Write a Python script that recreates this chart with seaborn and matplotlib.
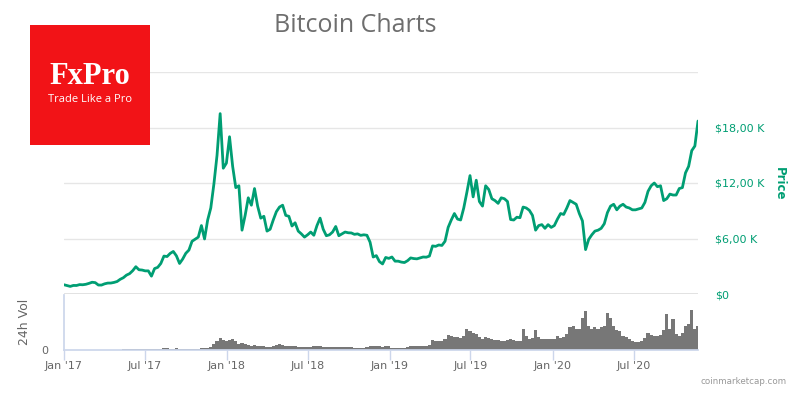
import matplotlib.pyplot as plt
import pandas as pd
import seaborn as sns
from matplotlib.patches import Rectangle

# Weekly BTC close (USD), one point every 7 days from 2017-01-01
price_2017 = [998, 908, 822, 925, 920, 1015, 999, 1050, 1150, 1270, 1230, 970, 965,
              1100, 1180, 1185, 1250, 1350, 1590, 1760, 2040, 2200, 2520, 2950, 2620,
              2590, 2500, 2500, 1930, 2750, 2880, 3300, 4100, 4050, 4390, 4600, 4120,
              3300, 3780, 4400, 4750, 5700, 5930, 6150, 7400, 5950, 8000, 9300, 11900,
              15000, 19500, 13600, 14150]
price_2018 = [17000, 13800, 11500, 11700, 6900, 8500, 10400, 9600, 11400, 9500, 8200,
              8400, 6800, 7000, 8000, 8900, 9400, 9600, 8500, 8400, 7350, 7700, 6800,
              6500, 6150, 6400, 6700, 6350, 7400, 8200, 7000, 6300, 6400, 6700, 7300,
              6300, 6500, 6700, 6620, 6600, 6450, 6500, 6340, 6400, 6350, 5600, 4000,
              4150, 3500, 3250, 3950, 3850]
price_2019 = [4000, 3550, 3550, 3450, 3400, 3600, 3900, 3830, 3800, 3900, 4000, 3980,
              4100, 5200, 5150, 5300, 5250, 5700, 7200, 8000, 8700, 8100, 8000, 9300,
              11000, 12800, 10500, 12300, 10000, 9500, 11700, 11300, 10300, 10100, 9800,
              10400, 10300, 10000, 8050, 8000, 8300, 8250, 9400, 9300, 9050, 8500, 6900,
              7400, 7500, 7100, 7500, 7200]
price_2020 = [7400, 8100, 8700, 8600, 9300, 10100, 9900, 9700, 8700, 7900, 4800, 5900,
              6400, 6800, 6900, 7100, 7600, 8800, 9500, 9700, 9100, 9500, 9700, 9400,
              9300, 9100, 9100, 9200, 9300, 9900, 11100, 11700, 12000, 11600, 11700,
              10100, 10300, 10800, 10700, 10700, 11400, 11500, 13100, 13800, 15500,
              16000, 18700]

# Weekly 24h volume (bn USD)
volume_2017 = [0.2, 0.2, 0.1, 0.1, 0.1, 0.1, 0.1, 0.1, 0.2, 0.3, 0.3, 0.3, 0.3, 0.3,
               0.3, 0.3, 0.3, 0.4, 0.6, 0.9, 1.1, 1.2, 1.3, 1.5, 1.2, 1.0, 0.9, 0.8,
               0.9, 1.0, 1.2, 1.6, 2.5, 2.4, 2.0, 1.8, 2.2, 1.8, 1.3, 1.2, 1.5, 2.1,
               2.0, 2.0, 3.0, 3.5, 3.3, 4.5, 8.0, 12.0, 17.0, 14.0, 13.0]
volume_2018 = [14, 16, 12, 9, 10, 8, 7, 6, 6.5, 6, 5.5, 5, 4.5, 4.5, 6, 7, 8, 7, 6,
               5.5, 5, 5, 4.5, 4.5, 4, 4.5, 4.5, 5.5, 6, 5.5, 4.5, 4, 4, 4.5, 4.5, 4,
               4.5, 4.5, 4, 4, 3.5, 3.5, 3.5, 3.5, 4, 5, 5.5, 5, 5, 4.5, 5, 5]
volume_2019 = [3, 2.5, 2.5, 2.5, 3, 4, 5, 6, 6, 6, 6, 6, 7, 14, 13, 13, 12, 16, 21, 20,
               18, 18, 17, 19, 30, 27, 24, 22, 18, 15, 18, 17, 15, 14, 14, 13, 13, 14,
               16, 14, 13, 13, 30, 20, 16, 17, 28, 18, 15, 16, 15, 15]
volume_2020 = [15, 20, 17, 18, 22, 32, 34, 30, 30, 45, 55, 34, 30, 32, 30, 32, 34, 52,
               45, 34, 28, 26, 20, 18, 15, 12, 11, 11, 12, 17, 24, 21, 20, 19, 21, 28,
               50, 30, 44, 22, 20, 24, 34, 36, 56, 30, 34]

tick_dates = ["2017-01-01", "2017-07-01", "2018-01-01", "2018-07-01",
              "2019-01-01", "2019-07-01", "2020-01-01", "2020-07-01"]
tick_labels = ["Jan '17", "Jul '17", "Jan '18", "Jul '18",
               "Jan '19", "Jul '19", "Jan '20", "Jul '20"]
price_ticks = [0, 6000, 12000, 18000, 24000]
price_tick_labels = ["$0", "$6,00 K", "$12,00 K", "$18,00 K", ""]

price = price_2017 + price_2018 + price_2019 + price_2020
volume = volume_2017 + volume_2018 + volume_2019 + volume_2020
dates = pd.date_range("2017-01-01", periods=len(price), freq="7D")
df = pd.DataFrame({"date": dates, "price": price, "volume": volume})

sns.set_theme(style="white")
plt.rcParams["font.family"] = ["DejaVu Sans"]

GREEN = "#009e73"
GREY = "#666666"
AXIS = "#ccd6eb"

fig = plt.figure(figsize=(8, 3.94), dpi=100)
ax = fig.add_axes([64 / 800, 1 - 294 / 394, 634 / 800, 222 / 394])
axv = fig.add_axes([64 / 800, 1 - 350 / 394, 634 / 800, 55 / 394])

# Price line
sns.lineplot(data=df, x="date", y="price", ax=ax, color=GREEN, linewidth=2, zorder=3)
ax.set_xlim(dates[0], dates[-1])
ax.set_ylim(0, 24000)
ax.set_yticks(price_ticks)
ax.set_yticklabels(price_tick_labels)
ax.yaxis.tick_right()
ax.tick_params(axis="y", length=0, pad=12, labelsize=8, labelcolor=GREEN)
ax.tick_params(axis="x", bottom=False, labelbottom=False)
ax.grid(axis="y", color="#e6e6e6", linewidth=1)
ax.axhline(0, color="#e0e0e0", linewidth=2, zorder=2)
ax.set_xlabel("")
ax.set_ylabel("")
for s in ax.spines.values():
    s.set_visible(False)

# Volume bars
axv.bar(df["date"], df["volume"], width=7, color="#777777", linewidth=0)
axv.set_xlim(dates[0], dates[-1])
axv.set_ylim(0, 77)
axv.set_yticks([0])
axv.set_yticklabels(["0"])
axv.tick_params(axis="y", length=0, pad=11, labelsize=8, labelcolor=GREY)
axv.set_xticks(pd.to_datetime(tick_dates))
axv.set_xticklabels(tick_labels)
axv.tick_params(axis="x", bottom=True, length=7, width=1, color=AXIS, pad=1,
                labelsize=8, labelcolor=GREY)
for side in ["top", "right"]:
    axv.spines[side].set_visible(False)
axv.spines["left"].set_color(AXIS)
axv.spines["bottom"].set_color(AXIS)
axv.set_facecolor("none")

# Texts
fig.text(355 / 800, 1 - 25 / 394, "Bitcoin Charts", ha="center", va="center",
         fontsize=18, color="#6e6e6e", family="Open Sans")
fig.text(779 / 800, 1 - 184 / 394, "Price", rotation=270, ha="center", va="center",
         fontsize=8.5, fontweight="bold", color=GREEN)
fig.text(25 / 800, 1 - 322 / 394, "24h Vol", rotation=90, ha="center", va="center",
         fontsize=9, color=GREY)
fig.text(787 / 800, 1 - 381 / 394, "coinmarketcap.com", ha="right", va="center",
         fontsize=6.3, color="#999999")

# FxPro logo box
fig.add_artist(Rectangle((30 / 800, 1 - 145 / 394), 120 / 800, 120 / 394,
                         transform=fig.transFigure, facecolor="#f21317",
                         edgecolor="none", zorder=5))
fig.text(90 / 800, 1 - 77 / 394, "FxPro", ha="center", va="center", fontsize=22,
         color="white", family="Liberation Serif", fontweight="bold", zorder=6)
fig.text(90 / 800, 1 - 100 / 394, "Trade Like a Pro", ha="center", va="center",
         fontsize=8, color="white", family="Open Sans", zorder=6)

fig.savefig("out.png", dpi=100)
